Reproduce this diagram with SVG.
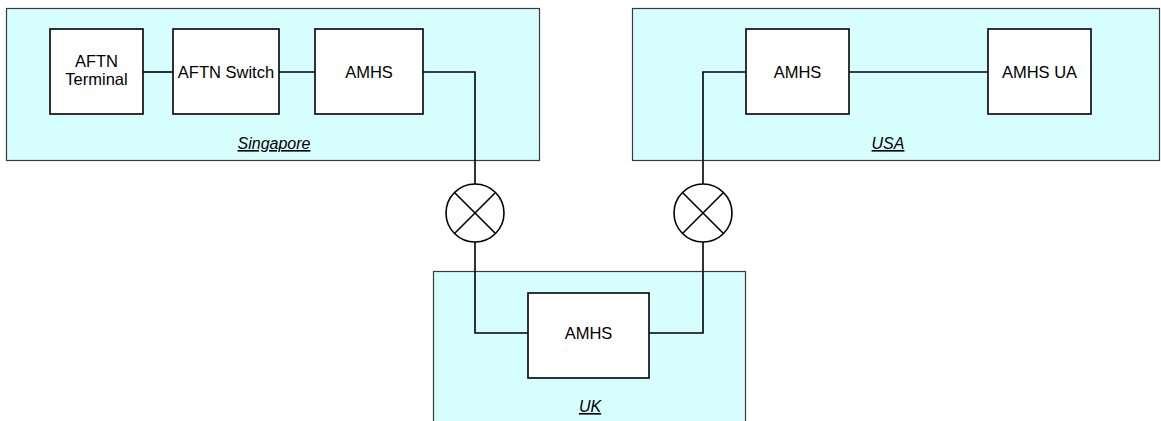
<svg xmlns="http://www.w3.org/2000/svg" width="1161" height="421" viewBox="0 0 1161 421">
<style>
.region{fill:#d6fefe;stroke:#3a3a3a;stroke-width:1.2}
.box{fill:#ffffff;stroke:#000;stroke-width:1.6}
.t{font-family:"Liberation Sans",Arial,sans-serif;font-size:16.5px;fill:#000;text-anchor:middle}
.lbl{font-family:"Liberation Sans",Arial,sans-serif;font-size:16px;font-style:italic;text-decoration:underline;fill:#000;text-anchor:middle}
.conn{fill:none;stroke:#000;stroke-width:1.6}
.sw{fill:#fff;stroke:#000;stroke-width:1.6}
</style>
<rect width="1161" height="421" fill="#fff"/>
<g id="region-singapore">
<rect class="region" x="6.5" y="8.5" width="533" height="152"/>
<text class="lbl" x="274" y="149">Singapore</text>
</g>
<g id="region-usa">
<rect class="region" x="632.5" y="8.5" width="527" height="152"/>
<text class="lbl" x="888" y="149">USA</text>
</g>
<g id="region-uk">
<rect class="region" x="433.5" y="271.5" width="312" height="152"/>
<text class="lbl" x="590" y="412">UK</text>
</g>
<g id="connectors">
<path class="conn" d="M143,72 H173"/>
<path class="conn" d="M279,72 H315"/>
<path class="conn" d="M423,72 H475 V184"/>
<path class="conn" d="M475,242 V333 H528"/>
<path class="conn" d="M649,333 H703 V242"/>
<path class="conn" d="M703,184 V72 H746"/>
<path class="conn" d="M849,72 H988"/>
</g>
<g id="aftn-terminal">
<rect class="box" x="50" y="29" width="93" height="85"/>
<text class="t" x="96.5" y="67">AFTN</text>
<text class="t" x="96.5" y="85">Terminal</text>
</g>
<g id="aftn-switch">
<rect class="box" x="173" y="29" width="106" height="85"/>
<text class="t" x="226" y="77.5">AFTN Switch</text>
</g>
<g id="amhs-singapore">
<rect class="box" x="315" y="29" width="108" height="85"/>
<text class="t" x="369" y="77.5">AMHS</text>
</g>
<g id="amhs-usa">
<rect class="box" x="746" y="29" width="103" height="85"/>
<text class="t" x="797.5" y="77.5">AMHS</text>
</g>
<g id="amhs-ua">
<rect class="box" x="988" y="29" width="103" height="85"/>
<text class="t" x="1039.5" y="77.5">AMHS UA</text>
</g>
<g id="amhs-uk">
<rect class="box" x="528" y="293" width="121" height="85"/>
<text class="t" x="588.5" y="338.5">AMHS</text>
</g>
<g id="switch-left">
<circle class="sw" cx="475" cy="213" r="29"/>
<path class="conn" d="M454.5,192.5 L495.5,233.5 M495.5,192.5 L454.5,233.5"/>
</g>
<g id="switch-right">
<circle class="sw" cx="703" cy="213" r="29"/>
<path class="conn" d="M682.5,192.5 L723.5,233.5 M723.5,192.5 L682.5,233.5"/>
</g>
</svg>
